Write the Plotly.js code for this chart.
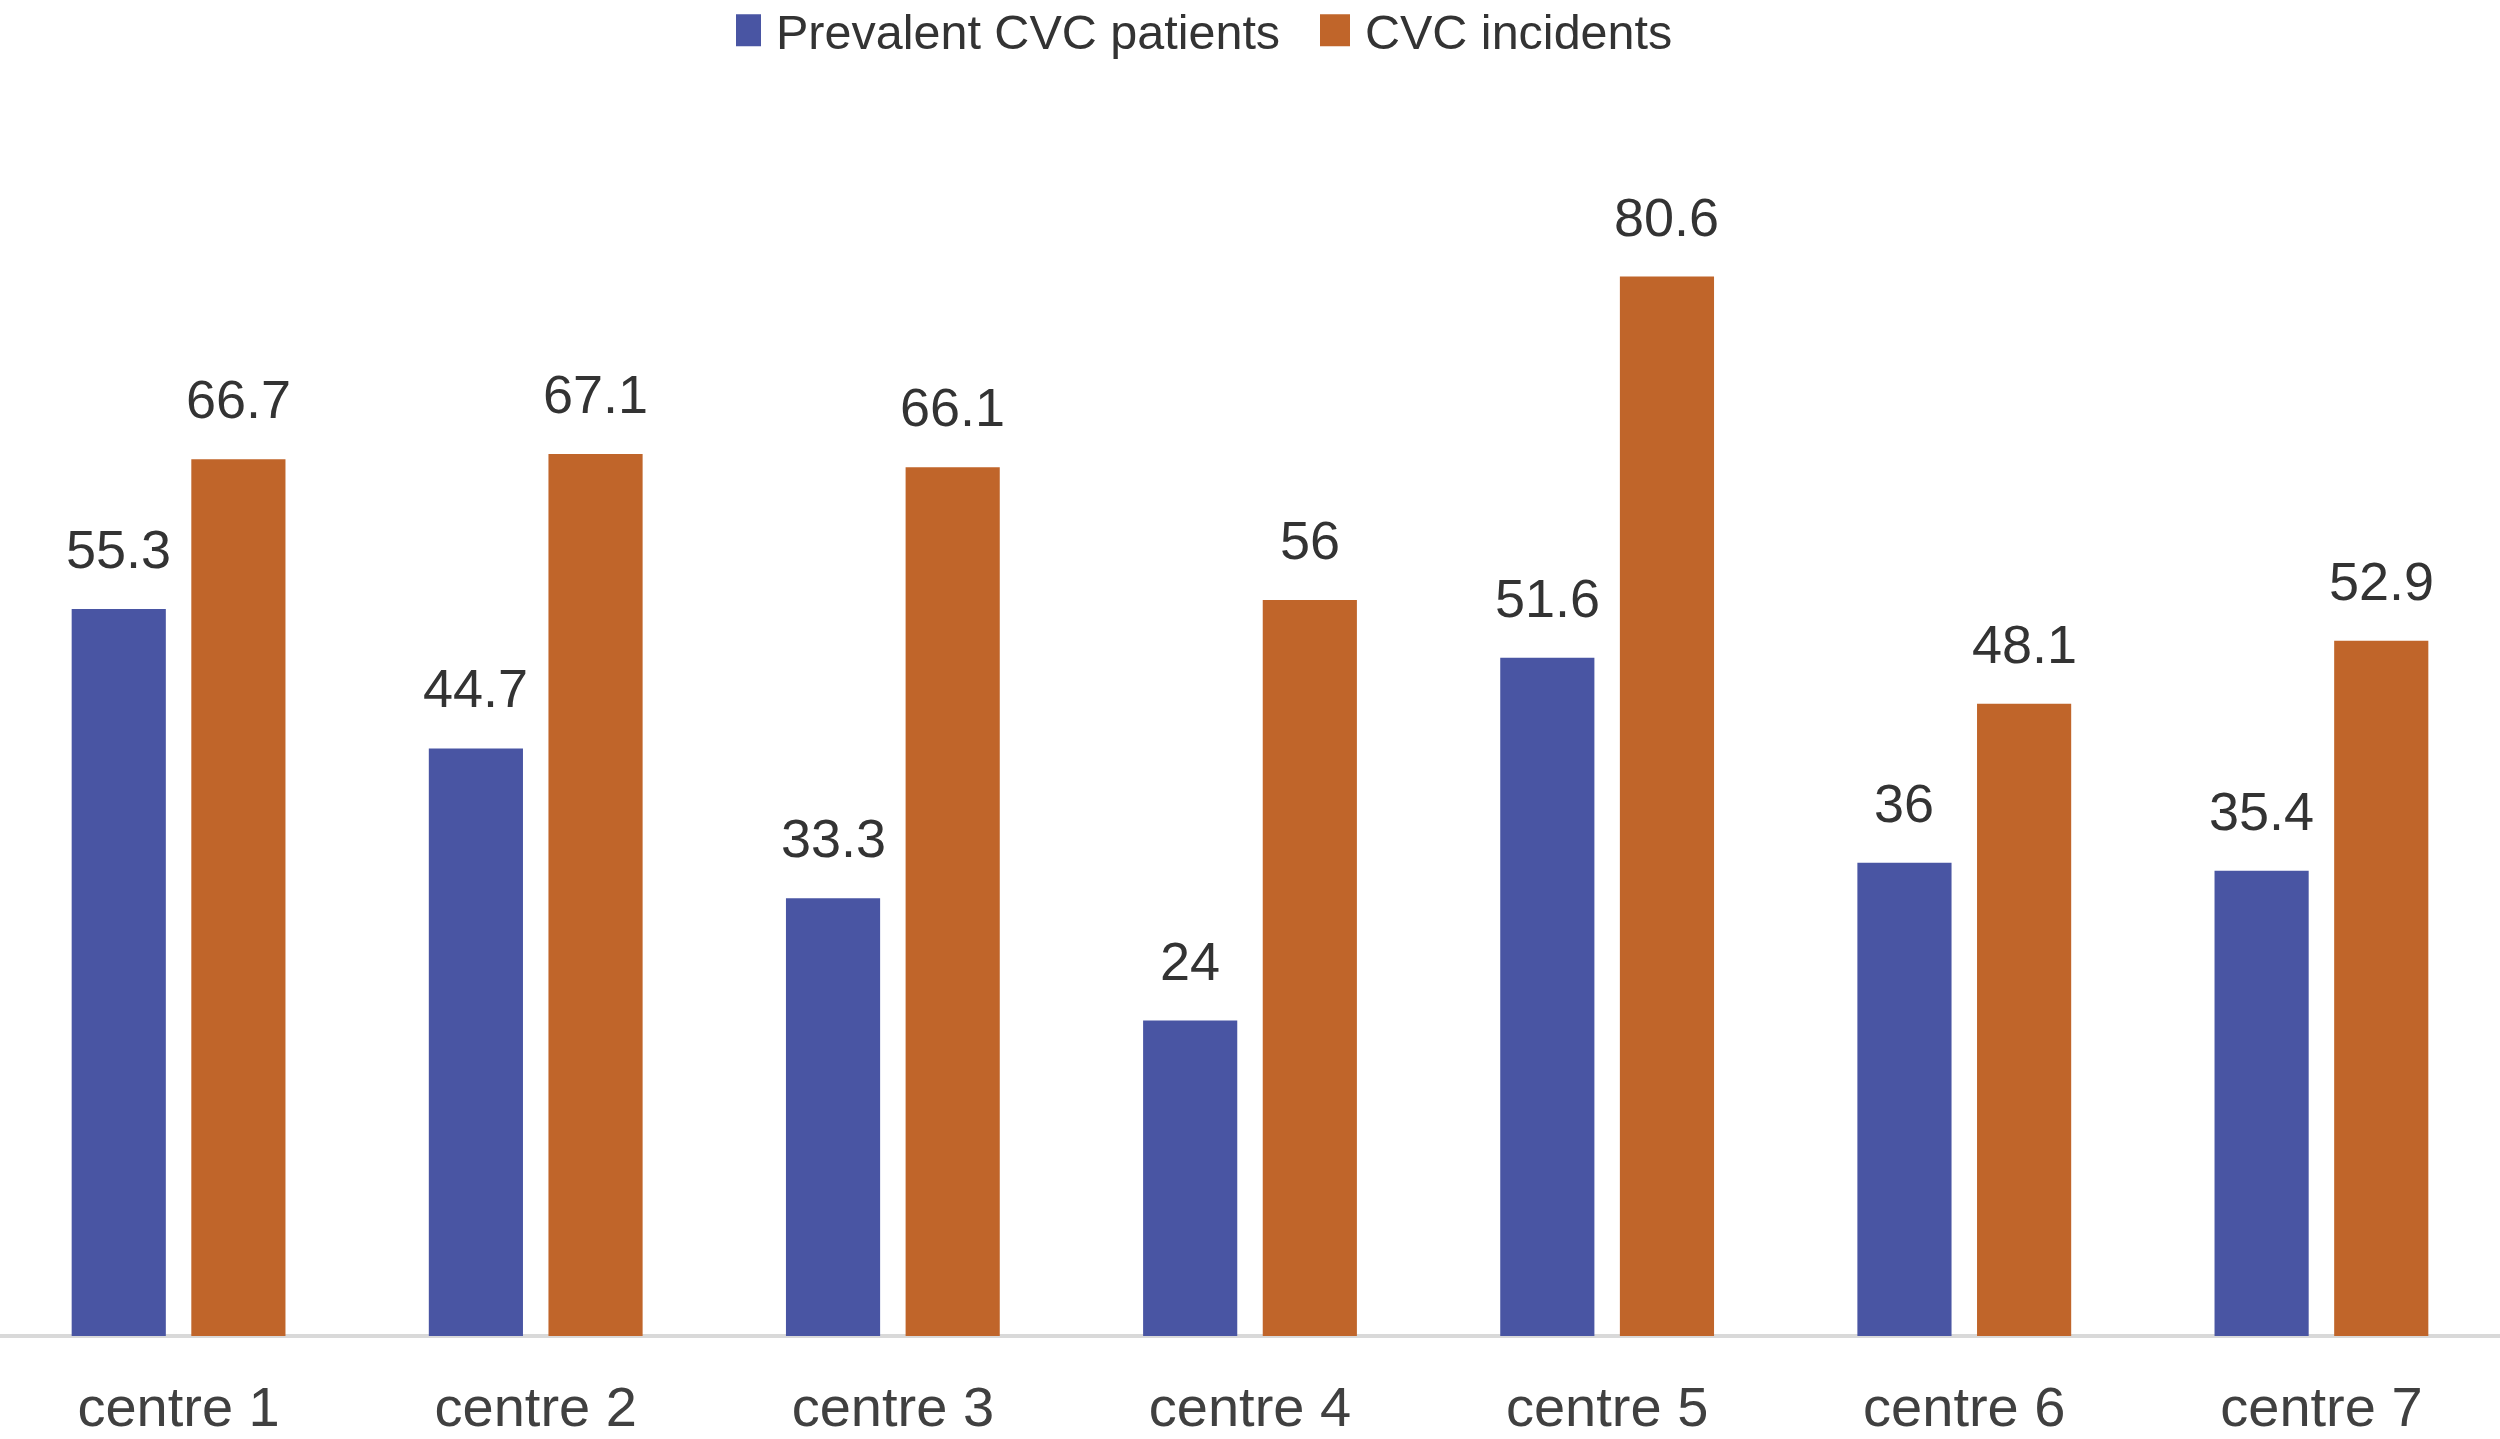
<!DOCTYPE html>
<html>
<head>
<meta charset="utf-8">
<script src="https://cdn.plot.ly/plotly-3.0.1.min.js"></script>
<style>html,body{margin:0;padding:0;background:#fff;}#chart{width:2500px;height:1439px;}</style>
</head>
<body>
<div id="chart"></div>
<script>
const categories = ["centre 1", "centre 2", "centre 3", "centre 4", "centre 5", "centre 6", "centre 7"];
const prevalent = [55.3, 44.7, 33.3, 24, 51.6, 36, 35.4];
const incidents = [66.7, 67.1, 66.1, 56, 80.6, 48.1, 52.9];
const seriesNames = ["Prevalent CVC patients", "CVC incidents"];

const blue = "#4955A3";
const orange = "#C0652A";
const textColor = "#333333";
const fontFam = "'Liberation Sans', Arial, Helvetica, sans-serif";

const bargap = 0.33, bargroupgap = 0.213;
const slot = (1 - bargap) / 2;

const traces = [
  {type: "bar", name: seriesNames[0], x: categories, y: prevalent, marker: {color: blue}, hoverinfo: "x+y"},
  {type: "bar", name: seriesNames[1], x: categories, y: incidents, marker: {color: orange}, hoverinfo: "x+y"}
];

const annotations = [];
[prevalent, incidents].forEach((vals, s) => {
  const off = (s === 0 ? -1 : 1) * slot / 2;
  vals.forEach((v, i) => {
    annotations.push({
      x: i + off, y: v, xref: "x", yref: "y",
      text: String(v), showarrow: false,
      yanchor: "bottom", yshift: 28,
      font: {family: fontFam, size: 54, color: textColor}
    });
  });
});

const layout = {
  width: 2500, height: 1439,
  margin: {l: 0, r: 0, t: 152.5, b: 103, pad: 0, autoexpand: false},
  paper_bgcolor: "#ffffff", plot_bgcolor: "#ffffff",
  barmode: "group", bargap: bargap, bargroupgap: bargroupgap,
  font: {family: fontFam, color: textColor},
  showlegend: true,
  legend: {
    orientation: "h", x: 0.53, xanchor: "center", y: 1.136, yanchor: "top",
    font: {family: fontFam, size: 48.5, color: textColor},
    itemwidth: 30, tracegroupgap: 0, entrywidth: 544
  },
  xaxis: {
    type: "category", showgrid: false, zeroline: false, showline: false, automargin: false,
    ticks: "", tickfont: {family: fontFam, size: 56, color: "#404040"},
    ticklabelstandoff: 33
  },
  yaxis: {
    range: [0, 90], showgrid: false, showticklabels: false, ticks: "", automargin: false,
    zeroline: true, zerolinecolor: "#d9d9d9", zerolinewidth: 4, showline: false
  },
  annotations: annotations
};

function enlargeLegendSymbols() {
  document.querySelectorAll("#chart .legend .legendpoints path").forEach(p => {
    p.setAttribute("d", "M5,16H-25V-16H5Z");
  });
}

Plotly.newPlot("chart", traces, layout, {displayModeBar: false, staticPlot: true}).then(gd => {
  enlargeLegendSymbols();
  gd.on("plotly_afterplot", enlargeLegendSymbols);
});
</script>
</body>
</html>
